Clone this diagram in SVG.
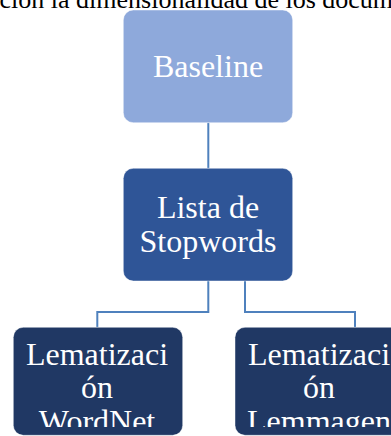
<svg xmlns="http://www.w3.org/2000/svg" width="391" height="436" viewBox="0 0 391 436">
  <style>
    .cap { font-family: "Liberation Serif", "Times New Roman", serif; font-size: 26px; fill: #000000; }
    .lbl { font-family: "Liberation Serif", "Times New Roman", serif; font-size: 32px; fill: #FFFFFF; text-anchor: middle; }
    .conn { fill: none; stroke: #4F81BD; stroke-width: 2; }
    .box { stroke: #FFFFFF; stroke-width: 0.75; stroke-opacity: 0.6; }
  </style>
  <defs>
    <clipPath id="clipL"><rect x="13" y="327" width="170" height="100"/></clipPath>
    <clipPath id="clipR"><rect x="235" y="327" width="170" height="100"/></clipPath>
  </defs>
  <rect width="391" height="436" fill="#FFFFFF"/>
  <text class="cap" x="-12" y="7.5">cción la dimensionalidad de los documentos</text>
  <g id="connectors">
    <line class="conn" x1="208.3" y1="122.7" x2="208.3" y2="168.3"/>
    <path class="conn" d="M208.3 281 V312 H97.3 V327.3"/>
    <path class="conn" d="M245 281 V312 H355 V327.3"/>
  </g>
  <g id="node-baseline">
    <rect class="box" x="123.3" y="10" width="169.4" height="112.7" rx="10" fill="#8EA9DB"/>
    <text class="lbl" x="208" y="77">Baseline</text>
  </g>
  <g id="node-stopwords">
    <rect class="box" x="123.3" y="168.3" width="169.4" height="112.7" rx="10" fill="#2F5597"/>
    <text class="lbl" x="208" y="218.3">Lista de</text>
    <text class="lbl" x="208" y="251.7">Stopwords</text>
  </g>
  <g id="node-wordnet">
    <rect class="box" x="13.3" y="327.3" width="169.4" height="108" rx="10" fill="#203864"/>
    <g clip-path="url(#clipL)">
      <text class="lbl" x="97" y="365">Lematizaci</text>
      <text class="lbl" x="97" y="398.3">ón</text>
      <text class="lbl" x="97" y="431.6">WordNet</text>
    </g>
  </g>
  <g id="node-lemmagen">
    <rect class="box" x="235" y="327.3" width="169.4" height="108" rx="10" fill="#203864"/>
    <g clip-path="url(#clipR)">
      <text class="lbl" x="319" y="365">Lematizaci</text>
      <text class="lbl" x="319" y="398.3">ón</text>
      <text class="lbl" x="319" y="431.6">Lemmagen</text>
    </g>
  </g>
</svg>
